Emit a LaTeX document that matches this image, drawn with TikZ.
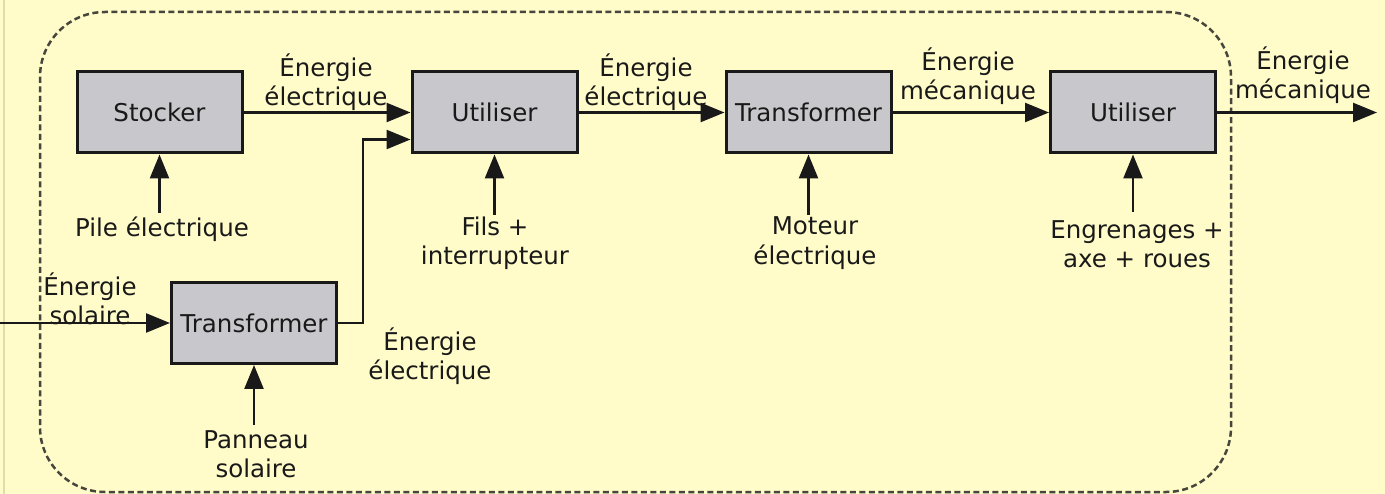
\documentclass[tikz,border=0pt]{standalone}
\usepackage{fontspec}
\setmainfont{DejaVu Sans}
\usetikzlibrary{arrows.meta}
\definecolor{bgyellow}{RGB}{255,252,202}
\definecolor{boxgray}{RGB}{200,200,204}
\definecolor{inkc}{RGB}{25,25,25}
\definecolor{dashc}{RGB}{70,70,60}
\definecolor{edgec}{RGB}{225,220,170}
\tikzset{
  fbox/.style={draw=inkc, fill=boxgray, line width=3pt, minimum width=165pt, minimum height=81pt, inner sep=0pt, text=inkc},
  lbl/.style={align=center, inner sep=0pt, text=inkc},
  arr/.style={draw=inkc, line width=2.5pt, -{Triangle[length=24pt,width=19pt]}},
  bnd/.style={draw=dashc, line width=2.5pt, dash pattern=on 6pt off 3.5pt, rounded corners=65pt}
}
\begin{document}
\begin{tikzpicture}[x=1pt,y=-1pt,font=\fontsize{24.5}{29.5}\selectfont]
\useasboundingbox (0,0) rectangle (1385,494);
\fill[bgyellow] (0,0) rectangle (1385,494);
\draw[edgec, line width=2pt] (4,0) -- (4,494);
\draw[bnd] (40,12) rectangle (1231,492);

\node[fbox] (stock) at (159.5,112.5) {Stocker};
\node[fbox] (util1) at (494.5,112.5) {Utiliser};
\node[fbox] (trans2) at (808.5,112.5) {Transformer};
\node[fbox] (util2) at (1133,112.5) {Utiliser};
\node[fbox] (trans1) at (254,323) {Transformer};

\coordinate (in) at (0,323);
\coordinate (out) at (1377,112.5);
\coordinate (bend) at (363,323);
\coordinate (u1in) at ([yshift=-27pt]util1.west);
\coordinate (pileS) at (159.5,213);
\coordinate (filsS) at (494.5,215);
\coordinate (motS) at (808.5,215);
\coordinate (engS) at (1133,212);
\coordinate (panS) at (254,425);

\draw[arr] (stock.east) -- (util1.west);
\draw[arr] (util1.east) -- (trans2.west);
\draw[arr] (trans2.east) -- (util2.west);
\draw[arr] (util2.east) -- (out);
\draw[arr] (in) -- (trans1.west);
\draw[arr] (trans1.east) -- (bend) |- (u1in);
\draw[arr] (pileS) -- (stock.south);
\draw[arr] (filsS) -- (util1.south);
\draw[arr] (motS) -- (trans2.south);
\draw[arr] (engS) -- (util2.south);
\draw[arr] (panS) -- (trans1.south);

\node[lbl] (e1) at (326,82) {Énergie\\électrique};
\node[lbl] (e2) at (646,82) {Énergie\\électrique};
\node[lbl] (e3) at (968,76) {Énergie\\mécanique};
\node[lbl] (e4) at (1303,75) {Énergie\\mécanique};
\node[lbl] (e5) at (90,299) {Énergie\\solaire};
\node[lbl] (e6) at (430,356) {Énergie\\électrique};
\node[lbl] (pile) at (162,229) {Pile électrique};
\node[lbl] (fils) at (495,243) {Fils +\\interrupteur};
\node[lbl] (mot) at (815,243) {Moteur\\électrique};
\node[lbl] (eng) at (1137,244) {Engrenages +\\axe + roues};
\node[lbl] (pan) at (256,454) {Panneau\\solaire};
\end{tikzpicture}
\end{document}
